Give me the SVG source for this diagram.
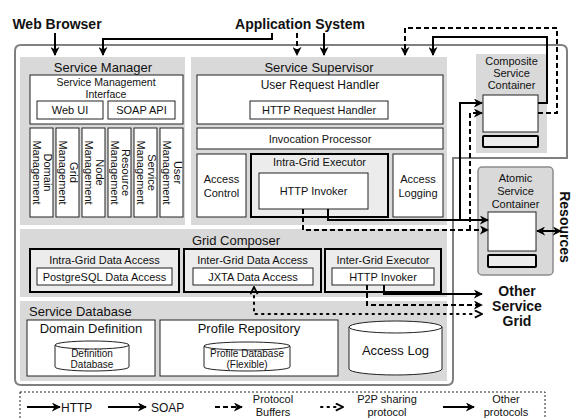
<svg xmlns="http://www.w3.org/2000/svg" width="573" height="419" viewBox="0 0 573 419">
  <style>
    text { font-family: "Liberation Sans", Arial, sans-serif; fill: #111; }
    .t13 { font-size: 13px; text-anchor: middle; }
    .t11 { font-size: 11px; text-anchor: middle; }
    .t10 { font-size: 10px; text-anchor: middle; }
    .t12 { font-size: 12px; text-anchor: middle; }
    .bold { font-weight: bold; font-size: 14px; text-anchor: middle; }
    .panel { fill: #d9d9d9; stroke: none; }
    .box { fill: #ffffff; stroke: #222; stroke-width: 1; }
    .thick { fill: #ececec; stroke: #000; stroke-width: 2; }
    .bar { fill: #ececec; stroke: #000; stroke-width: 2; }
    .solid { fill: none; stroke: #000; stroke-width: 2; marker-end: url(#arr); }
    .dash { fill: none; stroke: #000; stroke-width: 2; stroke-dasharray: 5 3; marker-end: url(#arr); }
    .dot { fill: none; stroke: #000; stroke-width: 2; stroke-dasharray: 1.5 5; stroke-linecap: round; }
  </style>
  <defs>
    <marker id="arr" viewBox="0 0 10 10" refX="9" refY="5" markerWidth="9" markerHeight="9" markerUnits="userSpaceOnUse" orient="auto-start-reverse">
      <path d="M0,0 L10,5 L0,10 L3,5 z" fill="#000"/>
    </marker>
    <marker id="chev" viewBox="0 0 10 10" refX="9" refY="5" markerWidth="9" markerHeight="9" markerUnits="userSpaceOnUse" orient="auto-start-reverse">
      <path d="M1,1 L9,5 L1,9" fill="none" stroke="#000" stroke-width="2"/>
    </marker>
  </defs>

  <!-- outer platform boundary -->
  <path d="M21,45 H561 Q567,45 567,51 V158 H453 V379 Q453,385 447,385 H21 Q15,385 15,379 V51 Q15,45 21,45 Z" fill="#fff" stroke="#808080" stroke-width="2"/>

  <!-- external actors -->
  <g id="web-browser"><text class="bold" x="57" y="29">Web Browser</text></g>
  <g id="application-system"><text class="bold" x="300" y="29">Application System</text></g>

  <!-- Service Manager -->
  <g id="service-manager">
    <rect class="panel" x="20" y="57" width="165" height="168"/>
    <text class="t13" x="103" y="72">Service Manager</text>
    <rect class="box" x="30" y="75" width="153" height="49"/>
    <text x="106" y="86" style="font-size:10.5px;text-anchor:middle">Service Management</text>
    <text x="106" y="97.8" style="font-size:10.5px;text-anchor:middle">Interface</text>
    <rect class="box" x="37" y="101" width="66" height="18"/>
    <text class="t11" x="70" y="114">Web UI</text>
    <rect class="box" x="108" y="101" width="67" height="18"/>
    <text class="t11" x="141.5" y="114">SOAP API</text>
    <g id="mgmt-modules">
      <rect class="box" x="30" y="128" width="23" height="89"/>
      <rect class="box" x="56" y="128" width="23" height="89"/>
      <rect class="box" x="82" y="128" width="23" height="89"/>
      <rect class="box" x="108" y="128" width="23" height="89"/>
      <rect class="box" x="134" y="128" width="23" height="89"/>
      <rect class="box" x="160" y="128" width="23" height="89"/>
      <text class="t11" transform="translate(41.5,172.5) rotate(90)"><tspan x="0" y="-2">Domain</tspan><tspan x="0" y="9">Management</tspan></text>
      <text class="t11" transform="translate(67.5,172.5) rotate(90)"><tspan x="0" y="-2">Grid</tspan><tspan x="0" y="9">Management</tspan></text>
      <text class="t11" transform="translate(93.5,172.5) rotate(90)"><tspan x="0" y="-2">Node</tspan><tspan x="0" y="9">Management</tspan></text>
      <text class="t11" transform="translate(119.5,172.5) rotate(90)"><tspan x="0" y="-2">Resource</tspan><tspan x="0" y="9">Management</tspan></text>
      <text class="t11" transform="translate(145.5,172.5) rotate(90)"><tspan x="0" y="-2">Service</tspan><tspan x="0" y="9">Management</tspan></text>
      <text class="t11" transform="translate(171.5,172.5) rotate(90)"><tspan x="0" y="-2">User</tspan><tspan x="0" y="9">Management</tspan></text>
    </g>
  </g>

  <!-- Service Supervisor -->
  <g id="service-supervisor">
    <rect class="panel" x="191" y="57" width="256" height="168"/>
    <text class="t13" x="319" y="72">Service Supervisor</text>
    <rect class="box" x="197" y="75" width="246" height="49"/>
    <text class="t12" x="320" y="89">User Request Handler</text>
    <rect class="box" x="250" y="101" width="138" height="18"/>
    <text class="t11" x="319" y="114">HTTP Request Handler</text>
    <rect class="box" x="197" y="128" width="246" height="21"/>
    <text class="t11" x="320" y="143">Invocation Processor</text>
    <rect class="box" x="197" y="154" width="49" height="63"/>
    <text class="t11" x="221.5" y="183">Access</text>
    <text class="t11" x="221.5" y="197">Control</text>
    <rect class="thick" x="251" y="154" width="137" height="63"/>
    <text class="t11" x="319.5" y="166">Intra-Grid Executor</text>
    <rect class="box" x="259" y="173" width="109" height="36"/>
    <text class="t11" x="313.5" y="195">HTTP Invoker</text>
    <rect class="box" x="393" y="154" width="50" height="63"/>
    <text class="t11" x="418" y="183">Access</text>
    <text class="t11" x="418" y="197">Logging</text>
  </g>

  <!-- Grid Composer -->
  <g id="grid-composer">
    <rect class="panel" x="20" y="229" width="427" height="68"/>
    <text class="t13" x="236" y="245">Grid Composer</text>
    <rect class="thick" x="30" y="249" width="149" height="43"/>
    <text class="t11" x="104.5" y="264">Intra-Grid Data Access</text>
    <rect class="box" x="37" y="268" width="135" height="17"/>
    <text class="t11" x="104.5" y="281">PostgreSQL Data Access</text>
    <rect class="thick" x="184" y="249" width="137" height="43"/>
    <text class="t11" x="252.5" y="264">Inter-Grid Data Access</text>
    <rect class="box" x="193" y="268" width="120" height="17"/>
    <text class="t11" x="253" y="281">JXTA Data Access</text>
    <rect class="thick" x="325" y="249" width="116" height="43"/>
    <text class="t11" x="383" y="264">Inter-Grid Executor</text>
    <rect class="box" x="332" y="268" width="102" height="17"/>
    <text class="t11" x="383" y="281">HTTP Invoker</text>
  </g>

  <!-- Service Database -->
  <g id="service-database">
    <rect class="panel" x="20" y="301" width="427" height="80"/>
    <text x="29" y="316" style="font-size:13px">Service Database</text>
    <rect class="box" x="27" y="320" width="128" height="56"/>
    <text class="t13" x="91" y="333">Domain Definition</text>
    <path d="M55,345 A37,4 0 0 1 129,345 V367 A37,4 0 0 1 55,367 Z" fill="#fff" stroke="#222"/>
    <path d="M55,345 A37,4 0 0 0 129,345" fill="none" stroke="#222"/>
    <text class="t10" x="92" y="357">Definition</text>
    <text class="t10" x="92" y="368.3">Database</text>
    <rect class="box" x="160" y="320" width="178" height="56"/>
    <text class="t13" x="249" y="333">Profile Repository</text>
    <path d="M204,346 A43,4 0 0 1 290,346 V367 A43,4 0 0 1 204,367 Z" fill="#fff" stroke="#222"/>
    <path d="M204,346 A43,4 0 0 0 290,346" fill="none" stroke="#222"/>
    <text class="t10" x="247" y="357">Profile Database</text>
    <text class="t10" x="247" y="368.3">(Flexible)</text>
    <path d="M349,327 A46.5,6 0 0 1 442,327 V369 A46.5,6 0 0 1 349,369 Z" fill="#fff" stroke="#222"/>
    <path d="M349,327 A46.5,6 0 0 0 442,327" fill="none" stroke="#222"/>
    <text class="t13" x="395.5" y="355">Access Log</text>
  </g>

  <!-- Composite Service Container -->
  <g id="composite-service-container">
    <rect class="panel" x="476" y="54" width="71" height="99"/>
    <text class="t11" x="511.5" y="65">Composite</text>
    <text class="t11" x="511.5" y="77">Service</text>
    <text class="t11" x="511.5" y="89">Container</text>
    <rect class="box" x="483" y="95" width="55" height="37"/>
    <rect class="bar" x="483" y="136" width="55" height="11" rx="1"/>
  </g>

  <!-- Atomic Service Container -->
  <g id="atomic-service-container">
    <rect x="478" y="167" width="75" height="108" rx="4" fill="#d9d9d9" stroke="#8c8c8c" stroke-width="1.5"/>
    <text class="t11" x="515.5" y="182">Atomic</text>
    <text class="t11" x="515.5" y="195">Service</text>
    <text class="t11" x="515.5" y="208">Container</text>
    <rect class="box" x="488" y="212" width="48" height="39"/>
    <rect class="bar" x="488" y="255" width="48" height="12" rx="1"/>
  </g>

  <g id="resources"><text class="bold" transform="translate(560,227) rotate(90)">Resources</text></g>
  <g id="other-service-grid">
    <text class="bold" x="517" y="296">Other</text>
    <text class="bold" x="517" y="311">Service</text>
    <text class="bold" x="517" y="326">Grid</text>
  </g>

  <!-- connectors -->
  <g id="connectors">
    <path class="solid" d="M55,33 V55"/>
    <path class="solid" d="M272,33 V39 H103 V55"/>
    <path class="dash" d="M297,33 V55"/>
    <path class="solid" d="M324,33 V55"/>
    <path class="solid" d="M538,103 H547 V37 H433 V55"/>
    <path class="dash" d="M538,113 H557 V28 H405 V55"/>
    <path class="solid" d="M328,209 V220 H488"/>
    <path class="solid" d="M460,220 V103 H482"/>
    <path class="dash" d="M303,209 V230 H488"/>
    <path class="dash" d="M470,230 V113 H482"/>
    <path class="solid" d="M384,285 V294 H482"/>
    <path class="dash" d="M367,285 V305 H482"/>
    <path class="dot" d="M254,296 V314 H476"/>
    <path d="M254,294 V287" fill="none" stroke="none" marker-end="url(#chev)"/>
    <path d="M476,314 H482" fill="none" stroke="none" marker-end="url(#chev)"/>
    <path d="M537,231 H561" fill="none" stroke="#000" stroke-width="2" marker-start="url(#arr)" marker-end="url(#arr)"/>
  </g>

  <!-- legend -->
  <g id="legend">
    <rect x="20" y="392" width="525" height="30" fill="none" stroke="#222" stroke-width="1" stroke-dasharray="2 2"/>
    <path class="solid" d="M27,407 H60"/>
    <text x="61" y="412" style="font-size:12px">HTTP</text>
    <path class="solid" d="M108,407 H146"/>
    <text x="151" y="412" style="font-size:12px">SOAP</text>
    <path class="dash" d="M215,407 H242"/>
    <text class="t11" x="273" y="403">Protocol</text>
    <text class="t11" x="273" y="415.5">Buffers</text>
    <path class="dot" d="M321,407 H337"/>
    <path d="M337,407 H343" fill="none" stroke="none" marker-end="url(#chev)"/>
    <text class="t11" x="387" y="403">P2P sharing</text>
    <text class="t11" x="387" y="415.5">protocol</text>
    <path class="solid" d="M443,407 H474"/>
    <text class="t11" x="506" y="403">Other</text>
    <text class="t11" x="506" y="415.5">protocols</text>
  </g>
</svg>
